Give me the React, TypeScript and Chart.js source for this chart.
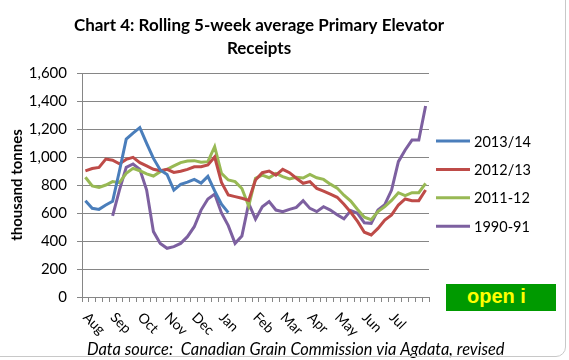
import React, { useEffect, useRef } from 'react';
import { Chart, registerables } from 'chart.js';

Chart.register(...registerables);

const weekLabels: string[] = [
  'Aug', '', '', '',
  'Sep', '', '', '',
  'Oct', '', '', '',
  'Nov', '', '', '',
  'Dec', '', '', '',
  'Jan', '', '', '', '',
  'Feb', '', '', '',
  'Mar', '', '', '',
  'Apr', '', '', '',
  'May', '', '', '',
  'Jun', '', '', '',
  'Jul', '', '', '', '', '',
];

const seriesNames = ['2013/14', '2012/13', '2011-12', '1990-91'];

const values201314: number[] = [688, 634, 626, 657, 684, 900, 1128, 1170, 1210, 1098, 990, 907, 875, 764, 805, 820, 840, 814, 862, 758, 663, 603];

const values201213: number[] = [901, 918, 926, 985, 977, 952, 983, 997, 960, 936, 912, 902, 912, 890, 898, 912, 930, 930, 943, 1000, 818, 729, 717, 705, 690, 836, 888, 900, 871, 912, 888, 848, 812, 824, 776, 757, 735, 712, 662, 605, 540, 463, 443, 490, 550, 586, 657, 700, 688, 688, 764];

const values201112: number[] = [855, 793, 783, 800, 824, 817, 883, 919, 902, 879, 864, 895, 912, 936, 960, 971, 974, 962, 967, 1074, 883, 836, 824, 775, 650, 848, 871, 852, 883, 860, 843, 855, 850, 876, 852, 840, 806, 778, 727, 685, 625, 570, 552, 610, 645, 690, 745, 724, 745, 745, 812];

const values199091: (number | null)[] = [null, null, null, null, 579, 764, 926, 950, 912, 764, 467, 383, 348, 360, 383, 431, 502, 621, 700, 735, 600, 510, 383, 435, 669, 556, 645, 681, 621, 610, 626, 640, 688, 633, 610, 645, 621, 588, 558, 617, 598, 530, 526, 621, 660, 764, 967, 1050, 1121, 1121, 1364];

const yMin = 0;
const yMax = 1600;
const yStep = 200;

const seriesColors = ['#4A7EBB', '#BE4B48', '#98B954', '#7D60A0'];

const titleLines = ['Chart 4: Rolling 5-week average Primary Elevator', 'Receipts'];
const yTitle = 'thousand tonnes';
const sourceNote = 'Data source:  Canadian Grain Commission via Agdata, revised';
const badgeText = 'open i';

const FONT = 'Lato';

const overlayPlugin = {
  id: 'overlay',
  afterDraw(chart: any) {
    const { ctx } = chart;
    const xs = chart.scales.x;
    ctx.save();
    ctx.fillStyle = '#000';

    // title
    ctx.font = `bold 17px ${FONT}`;
    ctx.textAlign = 'center';
    ctx.textBaseline = 'alphabetic';
    ctx.fillText(titleLines[0], 259, 31);
    ctx.fillText(titleLines[1], 259, 53.5);

    // month labels rotated clockwise
    ctx.font = `14px ${FONT}`;
    ctx.textAlign = 'left';
    ctx.textBaseline = 'middle';
    weekLabels.forEach((lab, i) => {
      if (!lab) return;
      const x = xs.getPixelForValue(i);
      ctx.save();
      ctx.translate(x, 315);
      ctx.rotate(Math.PI / 4);
      ctx.fillText(lab, 0, 0);
      ctx.restore();
    });

    // legend
    chart.data.datasets.forEach((ds: any, i: number) => {
      const y = 141 + i * 28.4;
      ctx.strokeStyle = ds.borderColor;
      ctx.lineWidth = 3;
      ctx.beginPath();
      ctx.moveTo(436, y);
      ctx.lineTo(470, y);
      ctx.stroke();
      ctx.font = `14.5px ${FONT}`;
      ctx.textAlign = 'left';
      ctx.textBaseline = 'middle';
      ctx.fillText(ds.label, 474, y + 1);
    });

    // source note
    ctx.font = `italic 16.4px ${FONT}`;
    ctx.textAlign = 'left';
    ctx.textBaseline = 'alphabetic';
    ctx.fillText(sourceNote, 87, 355);
    ctx.restore();
  },
};

export default function App() {
  const canvasRef = useRef<HTMLCanvasElement | null>(null);

  useEffect(() => {
    if (!canvasRef.current) return;
    const datasets = [values201314, values201213, values201112, values199091].map((vals, i) => ({
      label: seriesNames[i],
      data: vals,
      borderColor: seriesColors[i],
      backgroundColor: seriesColors[i],
      borderWidth: 3,
      pointRadius: 0,
      pointHoverRadius: 0,
      tension: 0,
      spanGaps: false,
      fill: false,
    }));
    const chart = new Chart(canvasRef.current, {
      type: 'line',
      data: { labels: weekLabels, datasets },
      options: {
        animation: false,
        responsive: false,
        devicePixelRatio: 1,
        layout: { padding: { left: 4, right: 140, top: 73, bottom: 53 } },
        plugins: {
          legend: { display: false },
          title: { display: false },
          tooltip: { enabled: false },
        },
        scales: {
          x: {
            type: 'category',
            offset: true,
            grid: {
              offset: true,
              drawOnChartArea: false,
              drawTicks: true,
              tickLength: 5,
              color: '#868686',
            },
            border: { color: '#868686' },
            ticks: { display: false, autoSkip: false },
            afterFit: (s: any) => {
              s.height = 10;
            },
          },
          y: {
            min: yMin,
            max: yMax,
            ticks: {
              stepSize: yStep,
              color: '#000',
              padding: 10,
              font: { family: FONT, size: 15 },
            },
            title: {
              display: true,
              text: yTitle,
              color: '#000',
              font: { family: FONT, size: 15, weight: 'bold' },
            },
            grid: { color: '#868686', tickLength: 5 },
            border: { color: '#868686' },
            afterFit: (s: any) => {
              s.width = 78;
            },
          },
        },
      },
      plugins: [overlayPlugin],
    } as any);
    return () => chart.destroy();
  }, []);

  return (
    <div style={{ position: 'fixed', left: 0, top: 0, width: 569, height: 360, background: '#fff', overflow: 'hidden' }}>
      <canvas ref={canvasRef} width={569} height={360} style={{ position: 'absolute', left: 0, top: 0 }} />
      <div
        style={{
          position: 'absolute',
          left: 446,
          top: 284,
          width: 110,
          height: 27,
          background: '#009a00',
          color: '#ffff00',
          fontFamily: '"Liberation Sans", Arial, sans-serif',
          fontWeight: 'bold',
          fontSize: 20,
          lineHeight: '25px',
          paddingLeft: 21,
          boxSizing: 'border-box',
          whiteSpace: 'nowrap',
          overflow: 'hidden',
        }}
      >
        {badgeText}
      </div>
      <div
        style={{
          position: 'absolute',
          left: -10,
          top: -10,
          width: 576,
          height: 367,
          border: '1px solid #c8c8c8',
          borderRadius: 10,
          boxSizing: 'border-box',
          pointerEvents: 'none',
        }}
      />
    </div>
  );
}
